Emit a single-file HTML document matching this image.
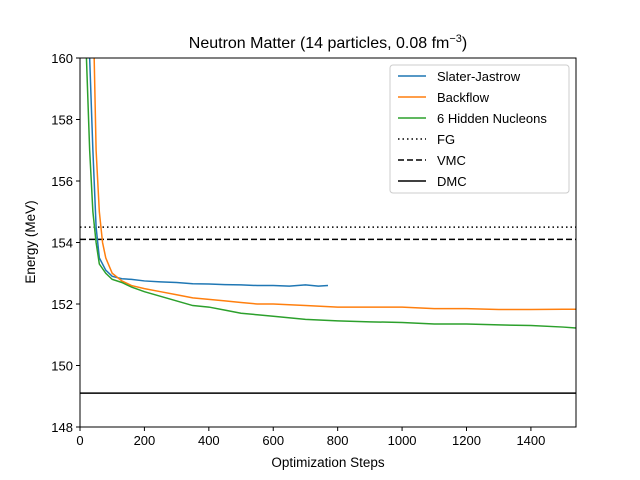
<!DOCTYPE html>
<html><head><meta charset="utf-8"><style>body{margin:0;background:#fff}svg{display:block;font-family:"Liberation Sans","DejaVu Sans",sans-serif}</style></head>
<body>
<svg id="chart" width="640" height="480">
<defs><clipPath id="clip"><rect x="80" y="58" width="496" height="369"/></clipPath></defs>
<rect x="0" y="0" width="640" height="480" fill="#fff"/>
<text x="328" y="48" text-anchor="middle" font-size="16">Neutron Matter (14 particles, 0.08 fm<tspan dy="-6" font-size="11">−3</tspan><tspan dy="6">)</tspan></text>
<g id="plot" clip-path="url(#clip)"></g>
<g id="axes"></g>
<text x="328" y="467" text-anchor="middle" font-size="13.5">Optimization Steps</text>
<text transform="translate(35,242) rotate(-90)" text-anchor="middle" font-size="13.5">Energy (MeV)</text>
<g id="legend"></g>
</svg>
<script>
const xTicks=[0,200,400,600,800,1000,1200,1400];
const yTicks=[148,150,152,154,156,158,160];
const sjSteps=[0,20,30,40,50,60,80,100,130,160,200,250,300,350,400,450,500,550,600,650,700,740,770];
const sjVals=[175,165,160,157,154.5,153.5,153.1,152.9,152.82,152.8,152.75,152.72,152.7,152.66,152.65,152.63,152.62,152.6,152.6,152.58,152.62,152.58,152.6];
const bfSteps=[0,30,40,50,60,70,80,100,130,160,200,250,300,350,400,450,500,550,600,700,800,900,1000,1100,1200,1300,1400,1500,1540];
const bfVals=[180,168,162,157,155,154,153.5,153,152.75,152.6,152.5,152.4,152.3,152.2,152.15,152.1,152.05,152.0,152.0,151.95,151.9,151.9,151.9,151.85,151.85,151.82,151.82,151.83,151.83];
const hnSteps=[0,10,20,30,40,50,60,80,100,130,160,200,250,300,350,400,450,500,550,600,700,800,900,1000,1100,1200,1300,1400,1500,1540];
const hnVals=[175,166,160,157,155,154,153.3,153,152.8,152.7,152.55,152.4,152.25,152.1,151.95,151.9,151.8,151.7,151.65,151.6,151.5,151.45,151.42,151.4,151.35,151.35,151.32,151.3,151.25,151.22];
const refNames=["FG","VMC","DMC"];
const refVals=[154.5,154.1,149.1];
const X0=80,X1=576,Y0=427,Y1=58,XMAX=1540,YMIN=148,YMAX=160;
const sx=v=>X0+(v/XMAX)*(X1-X0);
const sy=v=>Y0-(v-YMIN)/(YMAX-YMIN)*(Y0-Y1);
const NS="http://www.w3.org/2000/svg";
function mk(t,a,p){const e=document.createElementNS(NS,t);for(const k in a)e.setAttribute(k,a[k]);p.appendChild(e);return e;}
const plot=document.getElementById('plot'),axes=document.getElementById('axes'),leg=document.getElementById('legend');
const dashes=["1.5,3","6,3",""];
refVals.forEach((v,i)=>{const l=mk('line',{x1:X0,x2:X1,y1:sy(v),y2:sy(v),stroke:'#000','stroke-width':1.5,'stroke-dasharray':dashes[i]},plot);

});
function series(xs,ys,c,n){const p=mk('polyline',{points:xs.map((x,i)=>sx(x)+','+sy(ys[i])).join(' '),fill:'none',stroke:c,'stroke-width':1.5},plot);

}
series(sjSteps,sjVals,'#1f77b4','series-slater-jastrow');
series(bfSteps,bfVals,'#ff7f0e','series-backflow');
series(hnSteps,hnVals,'#2ca02c','series-hidden-nucleons');
const fr=mk('rect',{x:X0,y:Y1,width:X1-X0,height:Y0-Y1,fill:'none',stroke:'#000','stroke-width':1},axes);


xTicks.forEach(v=>{mk('line',{x1:sx(v),x2:sx(v),y1:Y0,y2:Y0+4,stroke:'#000'},axes);
const t=mk('text',{x:sx(v),y:Y0+18,'text-anchor':'middle','font-size':13},axes);t.textContent=v;

});
yTicks.forEach(v=>{mk('line',{x1:X0-4,x2:X0,y1:sy(v),y2:sy(v),stroke:'#000'},axes);
const t=mk('text',{x:X0-7,y:sy(v)+5,'text-anchor':'end','font-size':13},axes);t.textContent=v;

});
mk('rect',{x:390,y:65,width:179,height:128,rx:3,fill:'#fff',stroke:'#ccc'},leg);
const ln=["Slater-Jastrow","Backflow","6 Hidden Nucleons","FG","VMC","DMC"];
const lc=['#1f77b4','#ff7f0e','#2ca02c','#000','#000','#000'];
const ld=["","","","1.5,3","6,3",""];
ln.forEach((n,i)=>{const y=76+i*21;
mk('line',{x1:398,x2:426,y1:y,y2:y,stroke:lc[i],'stroke-width':1.5,'stroke-dasharray':ld[i]},leg);
const t=mk('text',{x:437,y:y+5,'font-size':13},leg);t.textContent=n;

});
</script>
</body></html>
